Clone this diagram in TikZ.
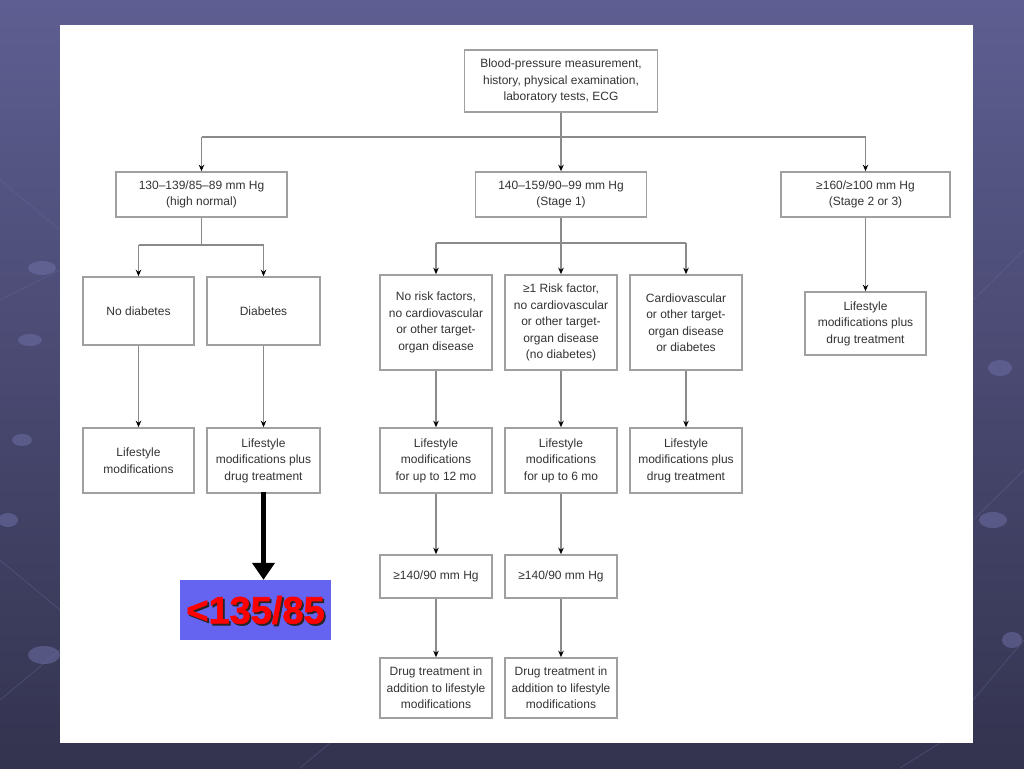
\documentclass[tikz,border=0pt]{standalone}
\usepackage{fontspec}
\setmainfont{Liberation Sans}
\newfontfamily\goalfont[FakeBold=1.6]{Liberation Sans Bold}
\usetikzlibrary{arrows.meta}
\definecolor{bgtop}{HTML}{5E5E92}
\definecolor{bgbot}{HTML}{33334F}
\definecolor{deco}{HTML}{6E6EA4}
\definecolor{boxline}{HTML}{A0A0A0}
\definecolor{conn}{HTML}{8A8A8A}
\definecolor{txt}{HTML}{333333}
\definecolor{goalblue}{HTML}{6464F0}
\tikzset{
  bx/.style={draw=boxline, line width=1.6pt, fill=white, align=center, inner sep=0pt,
    text=txt, font=\fontsize{12}{16.5}\selectfont},
  ln/.style={draw=conn, line width=1.3pt},
  arr/.style={ln, -{Stealth[black,length=6.5pt,width=5.5pt]}},
  bigarr/.style={draw=black, line width=4.5pt, -{Triangle[length=17pt,width=22pt]}},
  decoc/.style={fill=deco, draw=none, opacity=0.55},
  decol/.style={draw=deco, line width=0.8pt, opacity=0.35}
}
\begin{document}
\begin{tikzpicture}[x=1pt,y=-1pt]
\useasboundingbox (0,0) rectangle (1024,768);
% background
\shade[top color=bgtop, bottom color=bgbot] (0,0) rectangle (1024,768);
\draw[decol] (0,180) -- (60,230);
\draw[decol] (0,300) -- (60,270);
\draw[decol] (0,560) -- (60,610);
\draw[decol] (0,700) -- (60,650);
\draw[decol] (973,300) -- (1024,250);
\draw[decol] (973,520) -- (1024,470);
\draw[decol] (973,700) -- (1024,640);
\draw[decol] (900,768) -- (940,743);
\draw[decol] (300,768) -- (330,743);
\fill[decoc] (42,268) ellipse (14pt and 7pt);
\fill[decoc] (30,340) ellipse (12pt and 6pt);
\fill[decoc] (22,440) ellipse (10pt and 6pt);
\fill[decoc] (8,520) ellipse (10pt and 7pt);
\fill[decoc] (44,655) ellipse (16pt and 9pt);
\fill[decoc] (1000,368) ellipse (12pt and 8pt);
\fill[decoc] (993,520) ellipse (14pt and 8pt);
\fill[decoc] (1012,640) ellipse (10pt and 8pt);
% white panel
\fill[white] (60,25) rectangle (973,743);
% nodes
\node[bx, minimum width=193pt, minimum height=62pt] (top) at (561,81)
  {Blood-pressure measurement,\\history, physical examination,\\laboratory tests, ECG};
\node[bx, minimum width=171pt, minimum height=45pt] (hn) at (201.5,194.5)
  {130--139/85--89 mm Hg\\(high normal)};
\node[bx, minimum width=171pt, minimum height=45pt] (s1) at (561,194.5)
  {140--159/90--99 mm Hg\\(Stage 1)};
\node[bx, minimum width=169pt, minimum height=45pt] (s2) at (865.5,194.5)
  {≥160/≥100 mm Hg\\(Stage 2 or 3)};
\node[bx, minimum width=111pt, minimum height=68pt] (nd) at (138.5,311) {No diabetes};
\node[bx, minimum width=113pt, minimum height=68pt] (db) at (263.5,311) {Diabetes};
\node[bx, minimum width=112pt, minimum height=95pt] (nr) at (436,322.5)
  {No risk factors,\\no cardiovascular\\or other target-\\organ disease};
\node[bx, minimum width=112pt, minimum height=95pt] (rf) at (561,322.5)
  {≥1 Risk factor,\\no cardiovascular\\or other target-\\organ disease\\(no diabetes)};
\node[bx, minimum width=112pt, minimum height=95pt] (cv) at (686,322.5)
  {Cardiovascular\\or other target-\\organ disease\\or diabetes};
\node[bx, minimum width=121pt, minimum height=63pt] (s2l) at (865.5,323.5)
  {Lifestyle\\modifications plus\\drug treatment};
\node[bx, minimum width=111pt, minimum height=65pt] (lm) at (138.5,460.5)
  {Lifestyle\\modifications};
\node[bx, minimum width=113pt, minimum height=65pt] (lmd) at (263.5,460.5)
  {Lifestyle\\modifications plus\\drug treatment};
\node[bx, minimum width=112pt, minimum height=65pt] (l12) at (436,460.5)
  {Lifestyle\\modifications\\for up to 12 mo};
\node[bx, minimum width=112pt, minimum height=65pt] (l6) at (561,460.5)
  {Lifestyle\\modifications\\for up to 6 mo};
\node[bx, minimum width=112pt, minimum height=65pt] (lcv) at (686,460.5)
  {Lifestyle\\modifications plus\\drug treatment};
\node[bx, minimum width=112pt, minimum height=43pt] (g1) at (436,576.5) {≥140/90 mm Hg};
\node[bx, minimum width=112pt, minimum height=43pt] (g2) at (561,576.5) {≥140/90 mm Hg};
\node[bx, minimum width=112pt, minimum height=60pt] (d1) at (436,688)
  {Drug treatment in\\addition to lifestyle\\modifications};
\node[bx, minimum width=112pt, minimum height=60pt] (d2) at (561,688)
  {Drug treatment in\\addition to lifestyle\\modifications};
% goal box
\node[fill=goalblue, minimum width=151pt, minimum height=60pt, inner sep=0pt] (goal) at (255.5,610) {};
\node[text=black!85, font=\goalfont\fontsize{38}{38}\selectfont, inner sep=0pt] (goalsh) at ([xshift=1.8pt,yshift=-1.8pt]goal.center) {<135/85};
\node[text=red, font=\goalfont\fontsize{38}{38}\selectfont, inner sep=0pt] (goaltx) at (goal.center) {<135/85};
% connectors
\coordinate (j1) at (561,137);
\coordinate (jl) at (201.5,137);
\coordinate (jr) at (865.5,137);
\draw[ln] (top.south) -- (j1);
\draw[ln] (jl) -- (jr);
\draw[arr] (jl) -- (hn.north);
\draw[arr] (j1) -- (s1.north);
\draw[arr] (jr) -- (s2.north);
\coordinate (j2) at (201.5,245);
\coordinate (j2l) at (138.5,245);
\coordinate (j2r) at (263.5,245);
\draw[ln] (hn.south) -- (j2);
\draw[ln] (j2l) -- (j2r);
\draw[arr] (j2l) -- (nd.north);
\draw[arr] (j2r) -- (db.north);
\coordinate (j3) at (561,243);
\coordinate (j3l) at (436,243);
\coordinate (j3r) at (686,243);
\draw[ln] (s1.south) -- (j3);
\draw[ln] (j3l) -- (j3r);
\draw[arr] (j3l) -- (nr.north);
\draw[arr] (j3) -- (rf.north);
\draw[arr] (j3r) -- (cv.north);
\draw[arr] (s2.south) -- (s2l.north);
\draw[arr] (nd.south) -- (lm.north);
\draw[arr] (db.south) -- (lmd.north);
\draw[arr] (nr.south) -- (l12.north);
\draw[arr] (rf.south) -- (l6.north);
\draw[arr] (cv.south) -- (lcv.north);
\draw[arr] (l12.south) -- (g1.north);
\draw[arr] (l6.south) -- (g2.north);
\draw[arr] (g1.south) -- (d1.north);
\draw[arr] (g2.south) -- (d2.north);
\draw[bigarr] ([yshift=2pt]lmd.south) -- ([xshift=8pt]goal.north);
\end{tikzpicture}
\end{document}
